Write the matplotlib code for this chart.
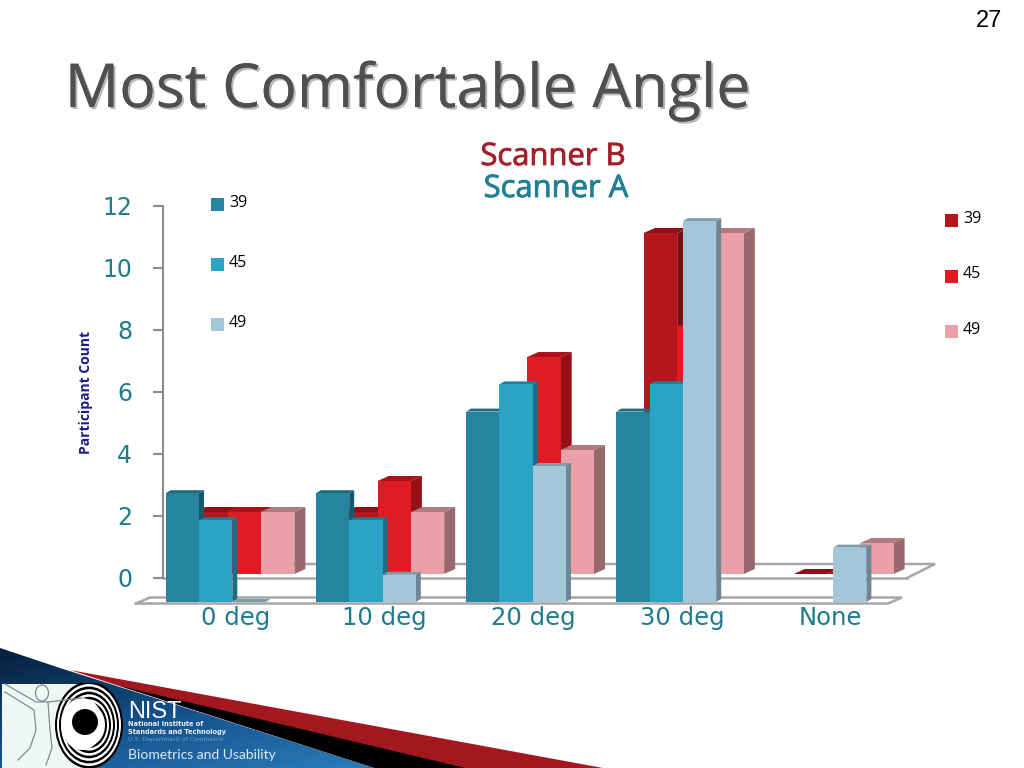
# Most Comfortable Angle slide: two overlaid fake-3D bar charts

import numpy as np
import matplotlib
matplotlib.use('Agg')
import matplotlib.pyplot as plt
import matplotlib.patheffects as pe
from matplotlib.patches import Polygon, Rectangle, Ellipse, Circle
from matplotlib.colors import LinearSegmentedColormap
from matplotlib.transforms import ScaledTranslation

W, H = 1024, 768

# Data
categories = ['0 deg', '10 deg', '20 deg', '30 deg', 'None']
legend_labels = ['39', '45', '49']
y_ticks = [0, 2, 4, 6, 8, 10, 12]

scanner_b_39 = [2, 2, 5, 11, 0]
scanner_b_45 = [2, 3, 7, 8, 0]
scanner_b_49 = [2, 2, 4, 11, 1]

scanner_a_39 = [4, 4, 7, 7, np.nan]
scanner_a_45 = [3, 3, 8, 8, np.nan]
scanner_a_49 = [0, 1, 5, 14, 2]

# front, side, top
colors_b = [('#b3161d', '#7d0d12', '#8f1016'),
            ('#e01b24', '#960f14', '#a81218'),
            ('#eb9fa6', '#97696c', '#b07a7e')]
colors_a = [('#25859f', '#18586d', '#1c6b82'),
            ('#2ba3c4', '#1a6d86', '#1f7f9c'),
            ('#a3c7d9', '#6e8694', '#7f9cab')]

TEAL = '#1f7a8c'
GRAY = '#a6a6a6'


def px_axes(left, right, top, bottom, zorder):
    ax = fig.add_axes([left / W, 1 - bottom / H, (right - left) / W, (bottom - top) / H])
    ax.set_zorder(zorder)
    ax.patch.set_alpha(0)
    return ax


def bars_3d(ax, series, colors, bar_w, dx, dy):
    # left to right, so each bar covers the side of the one before it
    for s, (vals, cols) in enumerate(zip(series, colors)):
        front, side, top = cols
        for i, v in enumerate(vals):
            if np.isnan(v):
                continue
            x0 = i + s * bar_w
            x1 = x0 + bar_w
            ax.add_patch(Polygon([(x1, 0), (x1 + dx, dy), (x1 + dx, v + dy), (x1, v)],
                                 fc=side, ec='none', clip_on=False, zorder=2 + s))
            ax.add_patch(Polygon([(x0, v), (x0 + dx, v + dy), (x1 + dx, v + dy), (x1, v)],
                                 fc=top, ec='none', clip_on=False, zorder=2 + s))
            ax.bar(x0, v, bar_w, align='edge', color=front, clip_on=False, zorder=2 + s)


fig = plt.figure(figsize=(W / 100, H / 100), dpi=100, facecolor='white')

# Slide background, pixel coordinates
bg = px_axes(0, W, 0, H, 0)
bg.set_xlim(0, W)
bg.set_ylim(H, 0)
bg.axis('off')

blue_shape = Polygon([(0, 648), (30, 658), (60, 668), (375, 768), (0, 768)], fc='none', ec='none')
bg.add_patch(blue_shape)
grad = np.add.outer(np.linspace(0, 0.7, 64), np.linspace(0, 0.5, 64))
cmap = LinearSegmentedColormap.from_list('slide_blue', ['#071f3a', '#14508a', '#2a7cba'])
img = bg.imshow(grad, extent=(0, 375, 768, 648), cmap=cmap, aspect='auto', zorder=1)
img.set_clip_path(blue_shape)
bg.set_xlim(0, W)
bg.set_ylim(H, 0)
bg.add_patch(Polygon([(70, 670), (603, 768), (375, 768)], fc='#a3171f', ec='none', zorder=2))
bg.add_patch(Polygon([(85, 675), (120, 686), (465, 768), (375, 768)], fc='black', ec='none', zorder=3))

# Logo
bg.add_patch(Rectangle((2, 684), 88, 84, fc='#eef6f6', ec='none', zorder=4))
logo_clip = Rectangle((2, 683), 122, 85, transform=bg.transData)
ring_w = np.arange(68, 30, -4)
for k, r in enumerate(ring_w):
    e = Ellipse((89, 725), r, r * 1.28, fc='black' if k % 2 == 0 else 'white', ec='none', zorder=5 + k * 0.01)
    bg.add_patch(e)
    e.set_clip_path(logo_clip)
bg.add_patch(Ellipse((82, 724), 42, 52, fc='white', ec='none', zorder=5.5))
bg.add_patch(Circle((85, 722), 13, fc='black', ec='none', zorder=6))
fig_col = '#7f8c8c'
bg.plot([5, 36, 48, 82], [684, 702, 702, 698], color=fig_col, lw=0.9, zorder=5.6)
bg.plot([5, 34, 36, 30, 18], [692, 710, 730, 748, 760], color=fig_col, lw=0.9, zorder=5.6)
bg.plot([48, 50, 52, 46], [702, 730, 748, 765], color=fig_col, lw=0.9, zorder=5.6)
bg.add_patch(Ellipse((42, 693), 13, 16, fc='none', ec=fig_col, lw=0.9, zorder=5.6))

bg.text(128, 712, 'NIST', color='white', fontsize=17, family='Liberation Sans',
        va='center', zorder=7)
bg.text(128, 724, 'National Institute of', color='#e8eef4', fontsize=4.8, fontweight='bold', va='center', zorder=7)
bg.text(128, 732, 'Standards and Technology', color='#e8eef4', fontsize=4.8, fontweight='bold', va='center', zorder=7)
bg.text(128, 740, 'U.S. Department of Commerce', color='#6f9cc4', fontsize=4.4, va='center', zorder=7)
bg.text(128, 755, 'Biometrics and Usability', color='#dfe9f2', fontsize=10, family='Lato', va='center', zorder=7)

# Slide number and headings
bg.text(989, 21, '27', color='black', fontsize=17, family='Liberation Sans', ha='center', va='center')
bg.text(407, 91, 'Most Comfortable Angle', color='#4f4f4f', fontsize=43.7, family='Open Sans', ha='center', va='center',
        path_effects=[pe.withSimplePatchShadow(offset=(1.5, -1.5), shadow_rgbFace='#9a9a9a', alpha=0.7), pe.Normal()])
bg.text(553, 157, 'Scanner B', color='#a3212a', fontsize=22.3, family='Open Sans', ha='center', va='center',
        path_effects=[pe.withStroke(linewidth=0.6, foreground='#a3212a')])
bg.text(556, 189, 'Scanner A', color='#1f7f95', fontsize=22.3, family='Open Sans', ha='center', va='center', zorder=9,
        path_effects=[pe.withStroke(linewidth=0.6, foreground='#1f7f95')])
bg.text(86, 392, 'Participant Count', color='#1a1a8c', fontsize=10, fontweight='bold', family='Open Sans',
        rotation=90, ha='center', va='center')

# Value axis on the back wall
ax_y = px_axes(163, 907, 206, 578, 1)
ax_y.set_ylim(0, 12)
ax_y.set_yticks(y_ticks)
ax_y.set_xticks([])
for name in ['top', 'right', 'bottom']:
    ax_y.spines[name].set_visible(False)
ax_y.spines['left'].set_color('#8c8c8c')
ax_y.spines['left'].set_linewidth(1.5)
ax_y.tick_params(axis='y', length=7.2, width=1.5, color='#8c8c8c', labelcolor=TEAL, labelsize=17, pad=15)
for lab in ax_y.get_yticklabels():
    lab.set_transform(lab.get_transform() + ScaledTranslation(0, 0.6 / 72, fig.dpi_scale_trans))
ax_y.axhline(0, color=GRAY, lw=1.8, clip_on=False)

# Back floor, the part that is not the front edge
bg2 = px_axes(0, W, 0, H, 1.5)
bg2.set_xlim(0, W)
bg2.set_ylim(H, 0)
bg2.axis('off')
bg2.plot([191, 935, 907], [564, 564, 578], color=GRAY, lw=1.8, solid_joinstyle='miter')

# Scanner B, behind
ax_b = px_axes(194.5, 194.5 + 5 * 149.8, 574 - 12 * 31, 574, 2)
ax_b.set_xlim(0, 5)
ax_b.set_ylim(0, 12)
ax_b.axis('off')
bars_3d(ax_b, [scanner_b_39, scanner_b_45, scanner_b_49], colors_b, 33.3 / 149.8, 11 / 149.8, 5 / 31)

# Scanner A, in front
ax_a = px_axes(165.7, 165.7 + 5 * 150.2, 602 - 14 * 27.2, 602, 3)
ax_a.set_xlim(0, 5)
ax_a.set_ylim(0, 14)
for name in ax_a.spines:
    ax_a.spines[name].set_visible(False)
ax_a.set_yticks([])
ax_a.set_xticks(0.467 + np.arange(5) * 0.99)
ax_a.set_xticklabels(categories, color=TEAL, fontsize=17.5)
ax_a.tick_params(axis='x', length=0, pad=3)
floor_x = (np.array([136, 150, 902, 888, 136]) - 165.7) / 150.2
floor_y = (602 - np.array([603.5, 597.5, 597.5, 603.5, 603.5])) / 27.2
ax_a.plot(floor_x, floor_y, color=GRAY, lw=1.8, clip_on=False, zorder=1, solid_joinstyle='miter')
bars_3d(ax_a, [scanner_a_39, scanner_a_45, scanner_a_49], colors_a, 33.3 / 150.2, 5 / 150.2, 3 / 27.2)

# Legends
for i, lab in enumerate(legend_labels):
    y = 204.5 + i * 60
    bg.add_patch(Rectangle((211, y - 6.5), 13, 13, fc=colors_a[i][0], ec='none'))
    bg.text(229, y - 1.5, lab, fontsize=11.5, color='black', family='Open Sans', va='center')
    y = 220.5 + i * 55.5
    bg.add_patch(Rectangle((945, y - 6.5), 13, 13, fc=colors_b[i][0], ec='none'))
    bg.text(963, y - 1.5, lab, fontsize=11.5, color='black', family='Open Sans', va='center')

fig.savefig('out.png', dpi=100)
